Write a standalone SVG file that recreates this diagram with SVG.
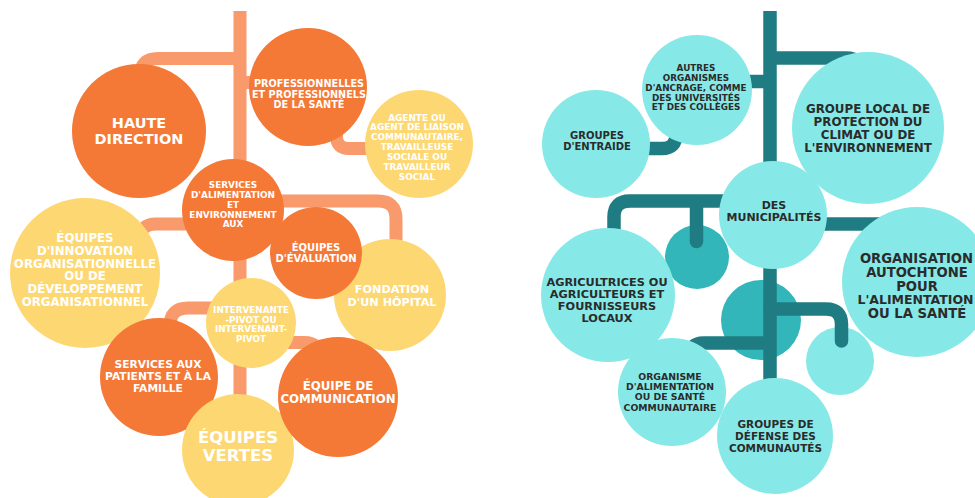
<svg xmlns="http://www.w3.org/2000/svg" width="975" height="498" viewBox="0 0 975 498">
<style>
.lc{fill:none;stroke:#F89A6B;stroke-width:13}
.rc{fill:none;stroke:#1F7C82;stroke-width:13.5}
.rnd{stroke-linecap:round}
.or{fill:#F47836}
.ye{fill:#FDD872}
.lt{fill:#86E9E7}
.mt{fill:#32B6B9}
text{font-family:"DejaVu Sans","Liberation Sans",sans-serif;font-weight:bold;text-anchor:middle}
.w{fill:#FFFFFF}
.d{fill:#2B2B2B}
</style>
<rect width="975" height="498" fill="#FFFFFF"/>

<g id="connectors-left">
<path class="lc" d="M240,11 V420"/>
<path class="lc" d="M240,58.5 H158 Q140,58.5 140,76.5 V100"/>
<path class="lc" d="M240,82.5 H262"/>
<path class="lc" d="M336.5,128 V136 Q336.5,148.5 349,148.5 H372"/>
<path class="lc" d="M240,224 H156 Q140,224 140,240 V250"/>
<path class="lc" d="M280,201 H378 Q396,201 396,219 V250"/>
<path class="lc" d="M240,308 H188 Q170,308 170,326 V335"/>
<path class="lc" d="M240,342.5 H304 Q320,342.5 320,358.5 V370"/>
</g>

<g id="n-haute">
<circle class="or" cx="139" cy="131" r="67"/>
<text class="w" font-size="14.5" x="139" y="128">HAUTE</text>
<text class="w" font-size="14.5" x="139" y="144">DIRECTION</text>
</g>
<g id="n-professionnels">
<circle class="or" cx="308" cy="87" r="59"/>
<text class="w" font-size="9.7" x="309" y="87">PROFESSIONNELLES</text>
<text class="w" font-size="9.7" x="309" y="97.5">ET PROFESSIONNELS</text>
<text class="w" font-size="9.7" x="309" y="107.5">DE LA SANTÉ</text>
</g>
<g id="n-agente">
<circle class="ye" cx="419" cy="144" r="54"/>
<text class="w" font-size="8.9" x="417" y="120.5">AGENTE OU</text>
<text class="w" font-size="8.9" x="417" y="130.4">AGENT DE LIAISON</text>
<text class="w" font-size="8.9" x="417" y="140.3">COMMUNAUTAIRE,</text>
<text class="w" font-size="8.9" x="417" y="150.2">TRAVAILLEUSE</text>
<text class="w" font-size="8.9" x="417" y="160.1">SOCIALE OU</text>
<text class="w" font-size="8.9" x="417" y="170">TRAVAILLEUR</text>
<text class="w" font-size="8.9" x="417" y="179.9">SOCIAL</text>
</g>
<g id="n-innovation">
<circle class="ye" cx="85" cy="273" r="75"/>
<text class="w" font-size="11.8" x="85" y="242">ÉQUIPES</text>
<text class="w" font-size="11.8" x="85" y="254.8">D'INNOVATION</text>
<text class="w" font-size="11.8" x="85" y="267.6">ORGANISATIONNELLE</text>
<text class="w" font-size="11.8" x="85" y="280.4">OU DE</text>
<text class="w" font-size="11.8" x="85" y="293.2">DÉVELOPPEMENT</text>
<text class="w" font-size="11.8" x="85" y="306">ORGANISATIONNEL</text>
</g>
<g id="n-alimentation">
<circle class="or" cx="233" cy="210" r="51"/>
<text class="w" font-size="8.9" x="233" y="188">SERVICES</text>
<text class="w" font-size="8.9" x="233" y="198">D'ALIMENTATION</text>
<text class="w" font-size="8.9" x="233" y="208">ET</text>
<text class="w" font-size="8.9" x="233" y="217.5">ENVIRONNEMENT</text>
<text class="w" font-size="8.9" x="233" y="227">AUX</text>
</g>
<g id="n-fondation">
<circle class="ye" cx="390" cy="295" r="56"/>
<text class="w" font-size="11.2" x="392" y="293">FONDATION</text>
<text class="w" font-size="11.2" x="392" y="306">D'UN HÔPITAL</text>
</g>
<g id="n-evaluation">
<circle class="or" cx="316" cy="253" r="46"/>
<text class="w" font-size="10" x="316" y="251">ÉQUIPES</text>
<text class="w" font-size="10" x="316" y="262">D'ÉVALUATION</text>
</g>
<g id="n-intervenant">
<circle class="ye" cx="251" cy="323" r="45"/>
<text class="w" font-size="8.8" x="251" y="313">INTERVENANTE</text>
<text class="w" font-size="8.8" x="251" y="322.7">-PIVOT OU</text>
<text class="w" font-size="8.8" x="251" y="332.4">INTERVENANT-</text>
<text class="w" font-size="8.8" x="251" y="342">PIVOT</text>
</g>
<g id="n-patients">
<circle class="or" cx="159" cy="377" r="59"/>
<text class="w" font-size="10.7" x="158" y="368">SERVICES AUX</text>
<text class="w" font-size="10.7" x="158" y="380">PATIENTS ET À LA</text>
<text class="w" font-size="10.7" x="158" y="392">FAMILLE</text>
</g>
<g id="n-vertes">
<circle class="ye" cx="238" cy="450" r="56"/>
<text class="w" font-size="16.5" x="238" y="443">ÉQUIPES</text>
<text class="w" font-size="16.5" x="238" y="461">VERTES</text>
</g>
<g id="n-communication">
<circle class="or" cx="338" cy="397" r="60"/>
<text class="w" font-size="11.8" x="338" y="390">ÉQUIPE DE</text>
<text class="w" font-size="11.8" x="338" y="403">COMMUNICATION</text>
</g>

<g id="n-dot1"><circle class="mt" cx="697" cy="257" r="32"/></g>
<g id="n-dot2"><circle class="mt" cx="761" cy="320" r="40"/></g>
<g id="n-dot3"><circle class="lt" cx="840" cy="361" r="34"/></g>

<g id="connectors-right">
<path class="rc" d="M770,11 V420"/>
<path class="rc" d="M770,58 H846 Q862,58 862,74 V90"/>
<path class="rc" d="M770,81.5 H740"/>
<path class="rc" d="M648,148.5 H662 Q676,148.5 676,134.5 V128"/>
<path class="rc" d="M770,201 H630 Q614,201 614,217 V240"/>
<path class="rc rnd" d="M696.5,205 V241.5"/>
<path class="rc" d="M770,224 H880"/>
<path class="rc rnd" d="M770,309 H826 Q841.5,309 841.5,324.5 V341"/>
<path class="rc" d="M770,343 H704 Q689,343 689,358 V372"/>
</g>

<g id="n-autres">
<circle class="lt" cx="697" cy="90" r="55"/>
<text class="d" font-size="8.8" x="696" y="71">AUTRES</text>
<text class="d" font-size="8.8" x="696" y="81">ORGANISMES</text>
<text class="d" font-size="8.8" x="696" y="91">D'ANCRAGE, COMME</text>
<text class="d" font-size="8.8" x="696" y="100.5">DES UNIVERSITÉS</text>
<text class="d" font-size="8.8" x="696" y="110">ET DES COLLÈGES</text>
</g>
<g id="n-entraide">
<circle class="lt" cx="596" cy="144" r="54"/>
<text class="d" font-size="10" x="597" y="139.3">GROUPES</text>
<text class="d" font-size="10" x="597" y="150">D'ENTRAIDE</text>
</g>
<g id="n-climat">
<circle class="lt" cx="868" cy="128" r="76"/>
<text class="d" font-size="11.85" x="868" y="112.7">GROUPE LOCAL DE</text>
<text class="d" font-size="11.85" x="868" y="125.7">PROTECTION DU</text>
<text class="d" font-size="11.85" x="868" y="138.7">CLIMAT OU DE</text>
<text class="d" font-size="11.85" x="868" y="151.7">L'ENVIRONNEMENT</text>
</g>
<g id="n-municipalites">
<circle class="lt" cx="773" cy="215" r="54"/>
<text class="d" font-size="11" x="774" y="209">DES</text>
<text class="d" font-size="11" x="774" y="221">MUNICIPALITÉS</text>
</g>
<g id="n-autochtone">
<circle class="lt" cx="917" cy="282" r="75"/>
<text class="d" font-size="13.2" x="916.5" y="263">ORGANISATION</text>
<text class="d" font-size="13.2" x="917" y="276.75">AUTOCHTONE</text>
<text class="d" font-size="13.2" x="917" y="290.5">POUR</text>
<text class="d" font-size="12.5" x="915.5" y="304.25">L'ALIMENTATION</text>
<text class="d" font-size="13.2" x="917" y="318">OU LA SANTÉ</text>
</g>
<g id="n-agriculteurs">
<circle class="lt" cx="608" cy="295" r="67"/>
<text class="d" font-size="11.3" x="607" y="285.7">AGRICULTRICES OU</text>
<text class="d" font-size="11.3" x="607" y="297.7">AGRICULTEURS ET</text>
<text class="d" font-size="11.3" x="607" y="309.7">FOURNISSEURS</text>
<text class="d" font-size="11.3" x="607" y="321.7">LOCAUX</text>
</g>
<g id="n-organisme">
<circle class="lt" cx="672" cy="392" r="54"/>
<text class="d" font-size="9.3" x="670" y="380">ORGANISME</text>
<text class="d" font-size="9.3" x="670" y="390.2">D'ALIMENTATION</text>
<text class="d" font-size="9.3" x="670" y="400.4">OU DE SANTÉ</text>
<text class="d" font-size="9.3" x="670" y="410.6">COMMUNAUTAIRE</text>
</g>
<g id="n-defense">
<circle class="lt" cx="775" cy="436" r="58"/>
<text class="d" font-size="10.5" x="775.5" y="428">GROUPES DE</text>
<text class="d" font-size="10.5" x="775.5" y="440">DÉFENSE DES</text>
<text class="d" font-size="10.5" x="775.5" y="451.7">COMMUNAUTÉS</text>
</g>
</svg>
